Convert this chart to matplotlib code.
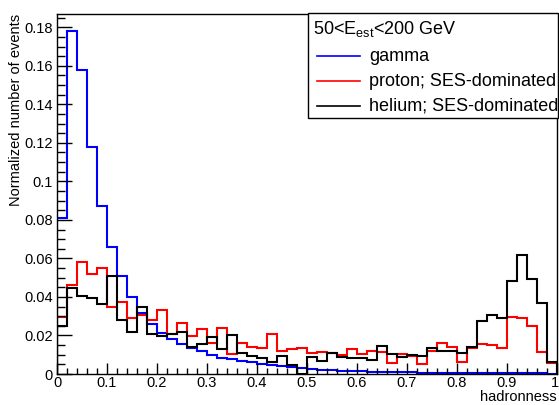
import numpy as np
import matplotlib
matplotlib.use("Agg")
import matplotlib.pyplot as plt
from matplotlib.patches import Rectangle
from matplotlib.ticker import MultipleLocator

plt.rcParams['font.family'] = ['Liberation Sans', 'DejaVu Sans']
plt.rcParams['mathtext.fontset'] = 'custom'
plt.rcParams['mathtext.rm'] = 'Liberation Sans'
plt.rcParams['mathtext.it'] = 'Liberation Sans'

bin_edges = np.linspace(0, 1, 51)

gamma = [0.081, 0.178, 0.158, 0.118, 0.087, 0.066, 0.051, 0.040, 0.0315, 0.026,
         0.0214, 0.0182, 0.0154, 0.0137, 0.0119, 0.0098, 0.0085, 0.0078, 0.0068, 0.0060,
         0.0052, 0.0045, 0.0039, 0.0034, 0.0029, 0.0025, 0.0022, 0.0019, 0.0017, 0.0015,
         0.0013, 0.0012, 0.0011, 0.0010, 0.0009, 0.0008, 0.0007, 0.0007, 0.0006, 0.0006,
         0.0005, 0.0005, 0.0004, 0.0004, 0.0004, 0.0003, 0.0003, 0.0003, 0.0003, 0.0002]

proton = [0.0296, 0.046, 0.058, 0.0517, 0.055, 0.0349, 0.0373, 0.0289, 0.0306, 0.028,
          0.0332, 0.0207, 0.0263, 0.0199, 0.0232, 0.0163, 0.0239, 0.0104, 0.0159, 0.0142,
          0.0137, 0.0207, 0.0118, 0.0131, 0.0137, 0.0107, 0.0114, 0.0107, 0.0098, 0.0130,
          0.0102, 0.0119, 0.0116, 0.0055, 0.0104, 0.0095, 0.0052, 0.0121, 0.0162, 0.0140,
          0.0061, 0.0133, 0.0156, 0.0149, 0.0133, 0.0297, 0.0292, 0.0249, 0.0116, 0.0055]

helium = [0.0251, 0.0448, 0.0405, 0.0392, 0.0363, 0.051, 0.028, 0.0219, 0.0349, 0.0207,
          0.0197, 0.0207, 0.0219, 0.0142, 0.0154, 0.0194, 0.0131, 0.0204, 0.011, 0.0093,
          0.0081, 0.0062, 0.0093, 0.0048, 0.0, 0.0088, 0.0065, 0.011, 0.0087, 0.0081,
          0.0085, 0.0073, 0.0145, 0.0105, 0.0086, 0.0099, 0.0093, 0.0137, 0.0121, 0.0118,
          0.0109, 0.0138, 0.0275, 0.0306, 0.0289, 0.0481, 0.0617, 0.0493, 0.0367, 0.0061]

labels = ["gamma", "proton; SES-dominated", "helium; SES-dominated"]
colors = ["#0000ff", "#ff0000", "#000000"]
legend_title = r"50<E$_{\rm est}$<200 GeV"

W, H = 559, 405
fig = plt.figure(figsize=(W / 100, H / 100), dpi=100)
ax_l, ax_r, ax_t, ax_b = 57, 557, 14, 374
ax = fig.add_axes([ax_l / W, 1 - ax_b / H, (ax_r - ax_l) / W, (ax_b - ax_t) / H])

for vals, c in zip([gamma, proton, helium], colors):
    ax.stairs(vals, bin_edges, color=c, linewidth=1.5, baseline=0)

ax.set_xlim(0, 1)
ax.set_ylim(0, 1.05 * max(gamma))
ax.xaxis.set_major_locator(MultipleLocator(0.1))
ax.xaxis.set_minor_locator(MultipleLocator(0.02))
ax.yaxis.set_major_locator(MultipleLocator(0.02))
ax.yaxis.set_minor_locator(MultipleLocator(0.005))
# the label at x=1 sits on the figure edge; it is drawn separately just inside it
ax.xaxis.set_major_formatter(plt.FuncFormatter(lambda v, p: "" if v > 0.999 else f"{v:g}"))
ax.yaxis.set_major_formatter(plt.FuncFormatter(lambda v, p: f"{v:g}"))

ax.tick_params(axis='both', which='both', direction='in', top=False, right=False,
               labelsize=10.5, width=1)
ax.tick_params(axis='y', which='major', length=11, pad=3)
ax.tick_params(axis='y', which='minor', length=5.5)
ax.tick_params(axis='x', which='major', length=8, pad=1.5)
ax.tick_params(axis='x', which='minor', length=4)
for s in ax.spines.values():
    s.set_linewidth(1)

ax.annotate("1", xy=(1, 0), xycoords=('data', 'axes fraction'), xytext=(-1.5, -1.5),
            textcoords='offset points', ha='center', va='top', fontsize=10.5,
            annotation_clip=False)

ax.set_xlabel("hadronness", loc='right', fontsize=10.5, labelpad=0)
ax.set_ylabel("Normalized number of events", loc='top', fontsize=10.5, labelpad=1)

# Legend box (manual, ROOT style)
def axx(px):
    return (px - ax_l) / (ax_r - ax_l)

def axy(py):
    return (ax_b - py) / (ax_b - ax_t)

box = Rectangle((axx(308), axy(118)), axx(558) - axx(308), axy(13) - axy(118),
                transform=ax.transAxes, facecolor='white', edgecolor='black',
                linewidth=1, clip_on=False, zorder=5)
ax.add_patch(box)
ax.text(axx(313), axy(29), legend_title, transform=ax.transAxes, fontsize=13,
        va='center', ha='left', zorder=6)
row_y = [56, 81, 106]
for lab, c, y in zip(labels, colors, row_y):
    ax.plot([axx(317), axx(360)], [axy(y), axy(y)], color=c, linewidth=1.2,
            transform=ax.transAxes, clip_on=False, zorder=6)
    ax.text(axx(369), axy(y), lab, transform=ax.transAxes, fontsize=13,
            va='center', ha='left', zorder=6)

fig.savefig("out.png", dpi=100)
